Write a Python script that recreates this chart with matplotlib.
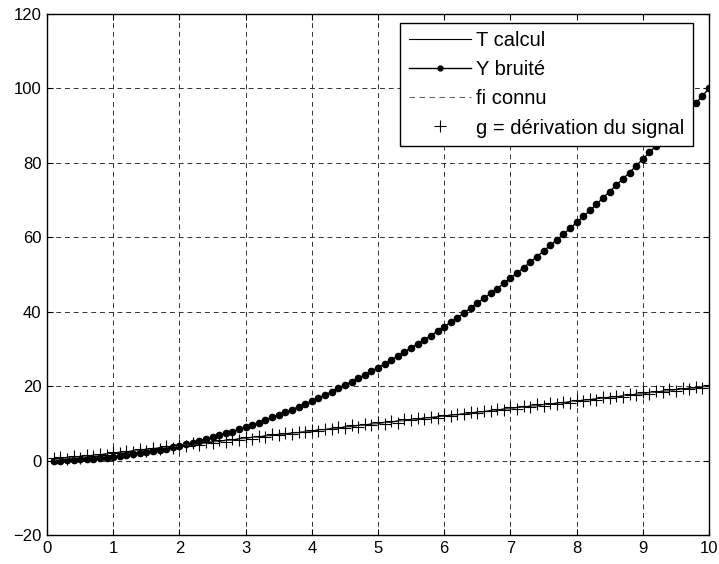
import matplotlib
matplotlib.use('Agg')
import matplotlib.pyplot as plt

x = [0.1, 0.2, 0.3, 0.4, 0.5, 0.6, 0.7, 0.8, 0.9, 1.0,
     1.1, 1.2, 1.3, 1.4, 1.5, 1.6, 1.7, 1.8, 1.9, 2.0,
     2.1, 2.2, 2.3, 2.4, 2.5, 2.6, 2.7, 2.8, 2.9, 3.0,
     3.1, 3.2, 3.3, 3.4, 3.5, 3.6, 3.7, 3.8, 3.9, 4.0,
     4.1, 4.2, 4.3, 4.4, 4.5, 4.6, 4.7, 4.8, 4.9, 5.0,
     5.1, 5.2, 5.3, 5.4, 5.5, 5.6, 5.7, 5.8, 5.9, 6.0,
     6.1, 6.2, 6.3, 6.4, 6.5, 6.6, 6.7, 6.8, 6.9, 7.0,
     7.1, 7.2, 7.3, 7.4, 7.5, 7.6, 7.7, 7.8, 7.9, 8.0,
     8.1, 8.2, 8.3, 8.4, 8.5, 8.6, 8.7, 8.8, 8.9, 9.0,
     9.1, 9.2, 9.3, 9.4, 9.5, 9.6, 9.7, 9.8, 9.9, 10.0]

# Y bruite (dots)
y_bruite = [0.0, 0.0, 0.1, 0.2, 0.3, 0.4, 0.5, 0.6, 0.8, 1.0,
            1.2, 1.4, 1.7, 2.0, 2.3, 2.6, 2.9, 3.2, 3.6, 4.0,
            4.4, 4.8, 5.3, 5.8, 6.3, 6.8, 7.3, 7.8, 8.4, 9.0,
            9.6, 10.2, 10.9, 11.6, 12.3, 13.0, 13.7, 14.4, 15.2, 16.0,
            16.8, 17.6, 18.5, 19.4, 20.3, 21.2, 22.1, 23.0, 24.0, 25.0,
            26.0, 27.0, 28.1, 29.2, 30.3, 31.4, 32.5, 33.6, 34.8, 36.0,
            37.2, 38.4, 39.7, 41.0, 42.3, 43.6, 44.9, 46.2, 47.6, 49.0,
            50.4, 51.8, 53.3, 54.8, 56.3, 57.8, 59.3, 60.8, 62.4, 64.0,
            65.6, 67.2, 68.9, 70.6, 72.3, 74.0, 75.7, 77.4, 79.2, 81.0,
            82.8, 84.6, 86.5, 88.4, 90.3, 92.2, 94.1, 96.0, 98.0, 100.0]

# T calcul (thin staircase)
t_calcul = [0.3, 0.3, 0.7, 0.7, 1.1, 1.1, 1.5, 1.5, 1.9, 1.9,
            2.3, 2.3, 2.7, 2.7, 3.1, 3.1, 3.5, 3.5, 3.9, 3.9,
            4.3, 4.3, 4.7, 4.7, 5.1, 5.1, 5.5, 5.5, 5.9, 5.9,
            6.3, 6.3, 6.7, 6.7, 7.1, 7.1, 7.5, 7.5, 7.9, 7.9,
            8.3, 8.3, 8.7, 8.7, 9.1, 9.1, 9.5, 9.5, 9.9, 9.9,
            10.3, 10.3, 10.7, 10.7, 11.1, 11.1, 11.5, 11.5, 11.9, 11.9,
            12.3, 12.3, 12.7, 12.7, 13.1, 13.1, 13.5, 13.5, 13.9, 13.9,
            14.3, 14.3, 14.7, 14.7, 15.1, 15.1, 15.5, 15.5, 15.9, 15.9,
            16.3, 16.3, 16.7, 16.7, 17.1, 17.1, 17.5, 17.5, 17.9, 17.9,
            18.3, 18.3, 18.7, 18.7, 19.1, 19.1, 19.5, 19.5, 19.9, 19.9]

# fi connu (dashed)
fi_connu = [0.2, 0.4, 0.6, 0.8, 1.0, 1.2, 1.4, 1.6, 1.8, 2.0,
            2.2, 2.4, 2.6, 2.8, 3.0, 3.2, 3.4, 3.6, 3.8, 4.0,
            4.2, 4.4, 4.6, 4.8, 5.0, 5.2, 5.4, 5.6, 5.8, 6.0,
            6.2, 6.4, 6.6, 6.8, 7.0, 7.2, 7.4, 7.6, 7.8, 8.0,
            8.2, 8.4, 8.6, 8.8, 9.0, 9.2, 9.4, 9.6, 9.8, 10.0,
            10.2, 10.4, 10.6, 10.8, 11.0, 11.2, 11.4, 11.6, 11.8, 12.0,
            12.2, 12.4, 12.6, 12.8, 13.0, 13.2, 13.4, 13.6, 13.8, 14.0,
            14.2, 14.4, 14.6, 14.8, 15.0, 15.2, 15.4, 15.6, 15.8, 16.0,
            16.2, 16.4, 16.6, 16.8, 17.0, 17.2, 17.4, 17.6, 17.8, 18.0,
            18.2, 18.4, 18.6, 18.8, 19.0, 19.2, 19.4, 19.6, 19.8, 20.0]

# g = derivation du signal (+ markers)
g_deriv = [0.6, 0.9, 0.3, 1.2, 0.8, 1.5, 1.1, 1.9, 1.4, 2.3,
           2.0, 2.6, 2.3, 3.1, 2.7, 3.4, 3.0, 3.9, 3.3, 4.2,
           4.0, 4.7, 4.3, 5.1, 4.6, 5.4, 5.1, 5.8, 5.5, 6.3,
           5.9, 6.6, 6.4, 7.1, 6.8, 7.5, 7.1, 7.8, 7.6, 8.3,
           7.9, 8.6, 8.4, 9.1, 8.7, 9.5, 9.1, 9.8, 9.6, 10.3,
           9.9, 10.6, 10.2, 11.1, 10.8, 11.4, 11.1, 11.8, 11.5, 12.3,
           11.9, 12.6, 12.4, 13.1, 12.7, 13.4, 13.2, 13.8, 13.5, 14.3,
           13.9, 14.6, 14.4, 15.1, 14.7, 15.4, 15.1, 15.8, 15.6, 16.3,
           15.9, 16.6, 16.3, 17.1, 16.8, 17.4, 17.2, 17.8, 17.5, 18.3,
           17.9, 18.6, 18.3, 19.1, 18.8, 19.4, 19.2, 19.9, 19.5, 20.2]

labels = ['T calcul', 'Y bruité', 'fi connu', 'g = dérivation du signal']

plt.rcParams['font.family'] = ['Liberation Sans', 'DejaVu Sans']
plt.rcParams['font.size'] = 12

fig = plt.figure(figsize=(7.19, 5.64), dpi=100)
ax = fig.add_axes([0.0654, 0.0514, 0.9207, 0.9238])

ax.plot(x, t_calcul, color='black', lw=0.8, label=labels[0])
ax.plot(x, y_bruite, color='black', lw=1.0, marker='o', markersize=4.5, label=labels[1])
ax.plot(x, fi_connu, color='0.4', lw=0.8, linestyle=(0, (5, 4)), label=labels[2])
ax.plot(x, g_deriv, color='black', lw=0, marker='+', markersize=9,
        markeredgewidth=0.8, label=labels[3])

ax.set_xlim(0, 10)
ax.set_ylim(-20, 120)
ax.set_xticks(range(0, 11))
ax.set_yticks(range(-20, 121, 20))
ax.grid(True, color='0.2', linestyle=(0, (5, 4)), linewidth=0.7)
ax.tick_params(direction='in', top=True, right=True, length=4, pad=4)
for s in ax.spines.values():
    s.set_linewidth(1.0)

leg = ax.legend(loc='upper right', bbox_to_anchor=(0.976, 0.983), fancybox=False,
                edgecolor='black', framealpha=1, fontsize=14.5, handlelength=3.1,
                handletextpad=0.25, borderaxespad=0, labelspacing=0.5, borderpad=0.42)
leg.get_frame().set_linewidth(1.0)
leg.legend_handles[1].set_markersize(3.5)

fig.savefig('out.png', dpi=100)
